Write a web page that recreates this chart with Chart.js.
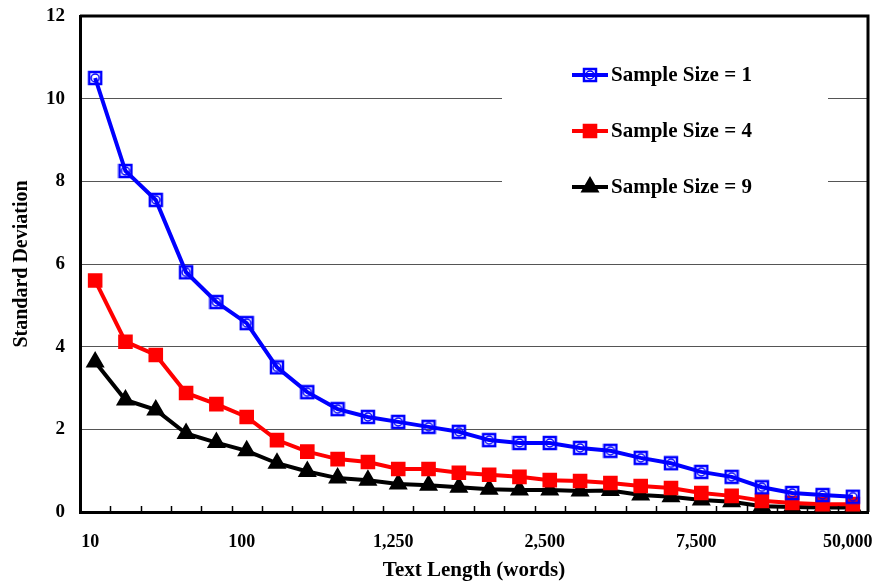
<!DOCTYPE html>
<html>
<head>
<meta charset="utf-8">
<script src="https://cdn.jsdelivr.net/npm/chart.js@4/dist/chart.umd.min.js"></script>
<style>
  html, body { margin: 0; background: #fff; }
  #wrap { width: 873px; height: 587px; }
</style>
</head>
<body>
<div id="wrap"><canvas id="myChart"></canvas></div>
<script>
// text lengths (words) - only every 5th one is labelled on the axis
const textLengths = ['10', '20', '30', '40', '50', '100', '250', '500', '750', '1,000',
  '1,250', '1,500', '1,750', '2,000', '2,250', '2,500', '3,000', '3,500', '4,000', '5,000',
  '7,500', '10,000', '15,000', '20,000', '25,000', '50,000'];

const sampleSize1 = [10.5, 8.25, 7.55, 5.8, 5.08, 4.57, 3.5, 2.9, 2.49, 2.3,
  2.18, 2.06, 1.94, 1.74, 1.67, 1.67, 1.55, 1.48, 1.31, 1.18,
  0.97, 0.85, 0.6, 0.46, 0.41, 0.37];
const sampleSize4 = [5.6, 4.12, 3.8, 2.88, 2.61, 2.3, 1.74, 1.46, 1.28, 1.21,
  1.04, 1.04, 0.95, 0.9, 0.85, 0.77, 0.75, 0.7, 0.63, 0.58,
  0.46, 0.39, 0.27, 0.22, 0.19, 0.19];
const sampleSize9 = [3.63, 2.71, 2.47, 1.9, 1.68, 1.48, 1.18, 0.98, 0.82, 0.77,
  0.68, 0.65, 0.6, 0.55, 0.53, 0.53, 0.51, 0.52, 0.41, 0.37,
  0.29, 0.25, 0.14, 0.12, 0.11, 0.11];

const yTicks = [0, 2, 4, 6, 8, 10, 12];

const FONT = "'Liberation Serif', 'Times New Roman', serif";

// blue marker: open square with a ring inside
function makeBlueMarker() {
  const c = document.createElement('canvas');
  c.width = 16; c.height = 16;
  const g = c.getContext('2d');
  g.strokeStyle = '#0000ff';
  g.lineWidth = 2.5;
  g.strokeRect(2, 2, 12, 12);
  g.lineWidth = 1.5;
  g.beginPath();
  g.arc(8, 8, 4, 0, Math.PI * 2);
  g.stroke();
  return c;
}
const blueMarker = makeBlueMarker();

const ctx = document.getElementById('myChart').getContext('2d');

// frame, inward x ticks and the boxed legend
const extras = {
  id: 'extras',
  afterDatasetsDraw(chart) {
    const c = chart.ctx;
    const a = chart.chartArea;
    const x = chart.scales.x;
    c.save();
    // inward tick marks on category boundaries
    c.strokeStyle = '#000';
    c.lineWidth = 1.5;
    const step = x.getPixelForValue(1) - x.getPixelForValue(0);
    for (let i = 0; i < textLengths.length - 1; i++) {
      const px = Math.round(x.getPixelForValue(i) + step / 2) + 0.5;
      c.beginPath();
      c.moveTo(px, a.bottom);
      c.lineTo(px, a.bottom - 6);
      c.stroke();
    }
    // top and right frame
    c.lineWidth = 3;
    c.beginPath();
    c.moveTo(a.left, a.top);
    c.lineTo(a.right, a.top);
    c.lineTo(a.right, a.bottom);
    c.stroke();

    // legend
    c.fillStyle = '#fff';
    c.fillRect(502, 45, 326, 170);
    const rows = [75, 131, 187];
    chart.data.datasets.forEach((ds, i) => {
      const y = rows[i];
      c.strokeStyle = ds.borderColor;
      c.lineWidth = 4;
      c.beginPath();
      c.moveTo(572, y);
      c.lineTo(608, y);
      c.stroke();
      c.fillStyle = ds.pointBackgroundColor;
      c.strokeStyle = ds.pointBorderColor;
      Chart.helpers.drawPoint(c, {
        pointStyle: ds.pointStyle, radius: ds.pointRadius, rotation: 0, borderWidth: 1
      }, 590, y);
      c.fillStyle = '#000';
      c.font = 'bold 21px ' + FONT;
      c.textBaseline = 'middle';
      c.textAlign = 'left';
      c.fillText(ds.label, 611, y + 1);
    });
    c.restore();
  }
};

new Chart(ctx, {
  type: 'line',
  data: {
    labels: textLengths,
    datasets: [{
      label: 'Sample Size = 1',
      data: sampleSize1,
      borderColor: '#0000ff',
      backgroundColor: '#0000ff',
      pointBackgroundColor: '#ffffff',
      pointBorderColor: '#0000ff',
      pointStyle: blueMarker,
      pointRadius: 8,
      borderWidth: 4
    }, {
      label: 'Sample Size = 4',
      data: sampleSize4,
      borderColor: '#ff0000',
      backgroundColor: '#ff0000',
      pointBackgroundColor: '#ff0000',
      pointBorderColor: '#ff0000',
      pointStyle: 'rect',
      pointRadius: 7.5,
      borderWidth: 4
    }, {
      label: 'Sample Size = 9',
      data: sampleSize9,
      borderColor: '#000000',
      backgroundColor: '#000000',
      pointBackgroundColor: '#000000',
      pointBorderColor: '#000000',
      pointStyle: 'triangle',
      pointRadius: 7,
      borderWidth: 4
    }]
  },
  options: {
    responsive: true,
    maintainAspectRatio: false,
    animation: false,
    layout: { autoPadding: false, padding: { top: 16, right: 5, left: 0, bottom: 0 } },
    plugins: {
      legend: { display: false },
      tooltip: { enabled: false }
    },
    scales: {
      x: {
        offset: true,
        grid: { display: false },
        border: { display: true, color: '#000', width: 3 },
        ticks: {
          autoSkip: false,
          maxRotation: 0,
          padding: 12,
          labelOffset: -5,
          color: '#000',
          font: { family: FONT, size: 18, weight: 'bold' },
          callback: (v, i) => (i % 5 === 0 ? textLengths[i] : '')
        },
        title: {
          display: true,
          text: 'Text Length (words)',
          color: '#000',
          font: { family: FONT, size: 21, weight: 'bold' },
          padding: { top: 10 }
        },
        afterFit: s => { s.height = 75; s.paddingLeft = 0; s.paddingRight = 0; }
      },
      y: {
        min: 0,
        max: 12,
        afterBuildTicks: s => { s.ticks = yTicks.map(v => ({ value: v })); },
        grid: { color: '#555', lineWidth: 1, drawTicks: false },
        border: { display: true, color: '#000', width: 3 },
        ticks: {
          padding: 15,
          color: '#000',
          font: { family: FONT, size: 19, weight: 'bold' }
        },
        title: {
          display: true,
          text: 'Standard Deviation',
          color: '#000',
          font: { family: FONT, size: 20, weight: 'bold' },
          padding: { top: 10, bottom: 0 }
        },
        afterFit: s => { s.width = 80; s.paddingTop = 0; s.paddingBottom = 0; }
      }
    }
  },
  plugins: [extras]
});
</script>
</body>
</html>
